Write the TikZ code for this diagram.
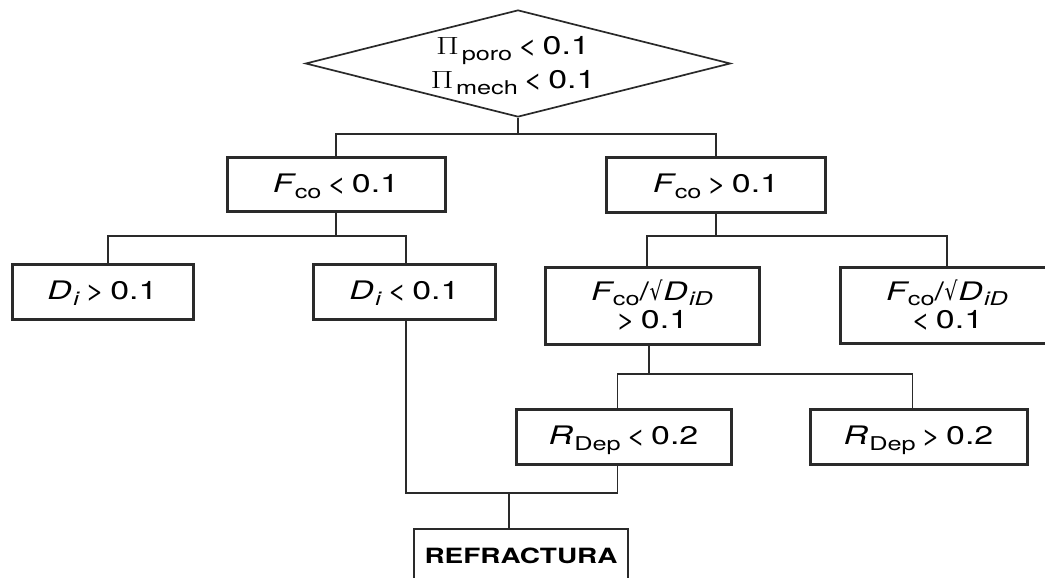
\documentclass[tikz,border=0pt]{standalone}
\usepackage{fontspec}
\setmainfont{TeX Gyre Heros}
\newfontfamily\dvfont{DejaVu Sans}
\usepackage{graphicx}
\usetikzlibrary{shapes.geometric}
\definecolor{linec}{HTML}{2A2A2A}
\newcommand\sx[1]{\scalebox{1.33}[1]{#1}}
\newcommand\sbx[1]{\raisebox{-6pt}[0pt][0pt]{\fontsize{19}{19}\selectfont #1}}
\newcommand\sbs[1]{\raisebox{-5pt}[0pt][0pt]{\fontsize{19}{19}\selectfont #1}}
\newcommand\op[1]{\hspace{4pt}#1\hspace{4pt}}
\newcommand\sq{\hspace{0.5pt}\scalebox{0.6}[1]{\dvfont √}\hspace{0.5pt}}
\tikzset{
  boxnode/.style={draw=linec, line width=3pt, inner sep=0pt, align=center,
    font=\fontsize{25.5}{30}\selectfont},
  thinbox/.style={draw=linec, line width=1.7pt, inner sep=0pt, align=center},
  conn/.style={draw=linec, line width=1.7pt},
}
\begin{document}
\begin{tikzpicture}[x=1pt,y=-1pt]
\useasboundingbox (0,0) rectangle (1045,578);
\clip (0,0) rectangle (1045,578);
% decision diamond
\node[shape=diamond, draw=linec, line width=1.7pt, inner sep=0pt,
      minimum width=425pt, minimum height=107pt] (dia) at (518,63.5) {};
\node[align=center, font=\fontsize{25.5}{34}\selectfont, inner sep=0pt] (diat) at (513,63)
  {\sx{$\Pi$\kern2pt\sbx{poro}\op{<}0.1}\\\sx{$\Pi$\kern2pt\sbx{mech}\op{<}0.1}};
% level 1
\node[boxnode, minimum width=218pt, minimum height=54pt] (fco1) at (336,184)
  {\sx{\textit{F}\kern-1pt\sbx{co}\op{<}0.1}};
\node[boxnode, minimum width=219pt, minimum height=55pt] (fco2) at (716,184.5)
  {\sx{\textit{F}\kern-1pt\sbx{co}\op{>}0.1}};
% level 2
\node[boxnode, minimum width=181pt, minimum height=55pt] (di1) at (102.5,291.5)
  {\sx{\textit{D}\kern1pt\sbx{\textit{i}}\op{>}0.1}};
\node[boxnode, minimum width=182pt, minimum height=55pt] (di2) at (404.5,291.5)
  {\sx{\textit{D}\kern1pt\sbx{\textit{i}}\op{<}0.1}};
\node[boxnode, minimum width=214pt, minimum height=77pt, font=\fontsize{25.5}{27}\selectfont] (fd1) at (652,305.5)
  {\sx{\textit{F}\kern-1pt\sbs{co}/\sq\textit{D}\kern1pt\sbs{\textit{iD}}}\\[1pt]\sx{>\hspace{4pt}0.1}};
\node[boxnode, minimum width=214pt, minimum height=76pt, font=\fontsize{25.5}{27}\selectfont] (fd2) at (947,305)
  {\sx{\textit{F}\kern-1pt\sbs{co}/\sq\textit{D}\kern1pt\sbs{\textit{iD}}}\\[1pt]\sx{<\hspace{4pt}0.1}};
% level 3
\node[boxnode, minimum width=215pt, minimum height=55pt] (rd1) at (623.5,436.5)
  {\sx{\textit{R}\kern1pt\sbx{Dep}\op{<}0.2}};
\node[boxnode, minimum width=217pt, minimum height=55pt] (rd2) at (918.5,436.5)
  {\sx{\textit{R}\kern1pt\sbx{Dep}\op{>}0.2}};
% result
\node[thinbox, minimum width=214pt, minimum height=54pt,
      font=\fontsize{21}{24}\selectfont\bfseries] (ref) at (521,556)
  {\scalebox{1.33}[1]{REFRACTURA}};
% connectors
\coordinate (h1) at (518,134);
\coordinate (h2) at (336,236);
\coordinate (h3) at (716,236);
\coordinate (h4) at (649,374);
\coordinate (h5) at (509,493);
\draw[conn] (dia.south) -- (h1);
\draw[conn] (fco1.north) |- (h1) -| (fco2.north);
\draw[conn] (fco1.south) -- (h2);
\draw[conn] ([xshift=5.5pt]di1.north) |- (h2) -| ([xshift=1.5pt]di2.north);
\draw[conn] (fco2.south) -- (h3);
\draw[conn] ([xshift=-5pt]fd1.north) |- (h3) -| (fd2.north);
\draw[conn] ([xshift=-3pt]fd1.south) -- (h4);
\draw[conn] ([xshift=-6pt]rd1.north) |- (h4) -| ([xshift=-6pt]rd2.north);
\draw[conn] ([xshift=1.5pt]di2.south) |- (h5) -| ([xshift=-6pt]rd1.south);
\draw[conn] (h5) -- ([xshift=-12pt]ref.north);
\end{tikzpicture}
\end{document}
